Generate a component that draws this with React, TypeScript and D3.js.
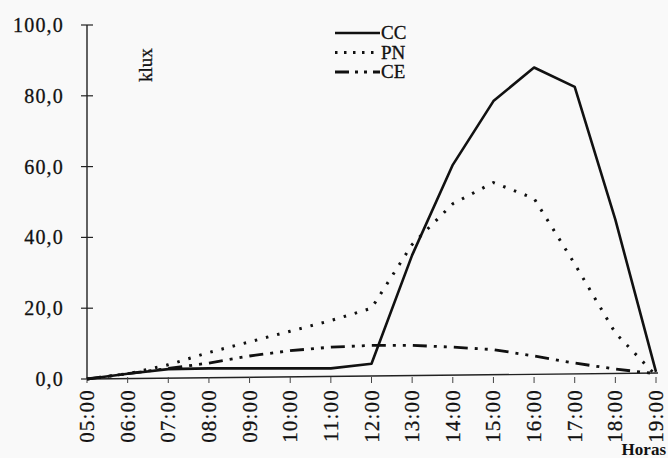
import React from "react";
import * as d3 from "d3";

const hours = ["05:00","06:00","07:00","08:00","09:00","10:00","11:00","12:00","13:00","14:00","15:00","16:00","17:00","18:00","19:00"];
const ccValues = [0, 1.5, 2.8, 3, 3, 3, 3, 4.3, 35, 60.5, 78.5, 88, 82.5, 45, 2];
const pnValues = [0, 1.5, 4, 7.5, 10.5, 13.5, 16.5, 20, 38, 49.5, 55.5, 51, 32.5, 13, 1];
const ceValues = [0, 1.5, 3, 4.5, 6.5, 8, 9, 9.5, 9.5, 9, 8.3, 6.5, 4.5, 2.8, 1.5];
const yTicks = [0, 20, 40, 60, 80, 100];
const seriesNames = ["CC", "PN", "CE"];

const font = "'Liberation Serif', 'Times New Roman', serif";

export default function App() {
  const W = 668, H = 458;
  const x = d3.scalePoint<string>().domain(hours).range([87, 656]);
  const y = d3.scaleLinear().domain([0, 100]).range([379, 25]);
  const line = d3.line<number>().x((_, i) => x(hours[i])!).y(d => y(d));

  const styles = [
    { data: ccValues, dash: "none", width: 2.6 },
    { data: pnValues, dash: "2.5 9", width: 3 },
    { data: ceValues, dash: "14 7 3 7 3 7", width: 2.8 },
  ];

  return (
    <svg width={W} height={H} style={{ position: "absolute", left: 0, top: 0 }}>
      <rect width={W} height={H} fill="#f9f9f9" />
      {/* y axis */}
      <line x1={87} x2={87} y1={y(100)} y2={y(0)} stroke="#222" strokeWidth={1.4} />
      {yTicks.map(t => (
        <g key={t}>
          <line x1={81} x2={93} y1={y(t)} y2={y(t)} stroke="#222" strokeWidth={1.2} />
          <text x={64} y={y(t) + 7} textAnchor="end" fontFamily={font} fontSize={20} letterSpacing={1.2}
            fill="#111" stroke="#111" strokeWidth={0.3}>
            {t.toFixed(1).replace(".", ",")}
          </text>
        </g>
      ))}
      {/* x axis */}
      <line x1={87} x2={658} y1={y(0)} y2={y(0) - 6} stroke="#222" strokeWidth={1.4} />
      {hours.map(h => (
        <g key={h}>
          <line x1={x(h)!} x2={x(h)!} y1={y(0) - 2} y2={y(0) + 4} stroke="#444" strokeWidth={1} />
          <text transform={`translate(${x(h)! + 7},${y(0) + 10}) rotate(-90)`} textAnchor="end"
            fontFamily={font} fontSize={21} letterSpacing={1.2} fill="#111" stroke="#111" strokeWidth={0.3}>{h}</text>
        </g>
      ))}
      {/* series */}
      {styles.map((s, i) => (
        <path key={i} d={line(s.data)!} fill="none" stroke="#111" strokeWidth={s.width}
          strokeDasharray={s.dash} strokeLinejoin="round" />
      ))}
      {/* legend */}
      {styles.map((s, i) => (
        <g key={"lg" + i}>
          <line x1={335} x2={380} y1={33 + i * 19.5} y2={33 + i * 19.5} stroke="#111" strokeWidth={s.width}
            strokeDasharray={s.dash === "none" ? "none" : (i === 1 ? "2.5 6.5" : "14 6 3 6 3 6")} />
          <text x={381} y={33 + i * 19.5 + 6} fontFamily={font} fontSize={19} fill="#111"
            stroke="#111" strokeWidth={0.3}>{seriesNames[i]}</text>
        </g>
      ))}
      {/* axis titles */}
      <text transform="translate(152,82) rotate(-90)" fontFamily={font} fontSize={19} fill="#111"
        stroke="#111" strokeWidth={0.3}>klux</text>
      <text x={666} y={455} textAnchor="end" fontFamily={font} fontSize={17} fontWeight="bold" fill="#111">Horas</text>
    </svg>
  );
}
